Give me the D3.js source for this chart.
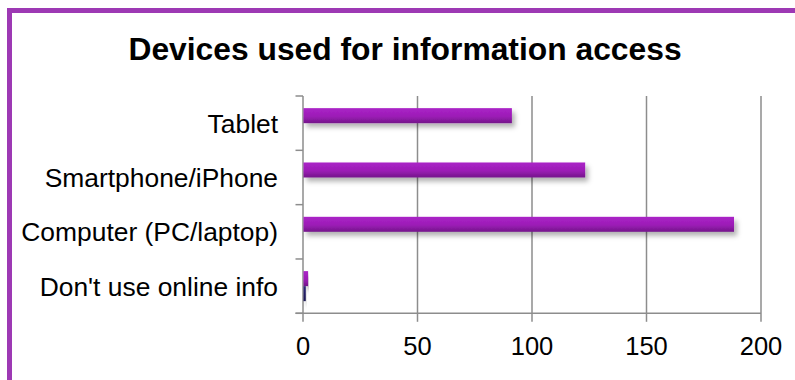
<!DOCTYPE html>
<html lang="en">
<head>
  <meta charset="UTF-8">
  <title>Devices used for information access</title>
  <script src="https://d3js.org/d3.v7.min.js"></script>
  <style>
    body { margin: 0; background: #fff; overflow: hidden; }
    svg { display: block; }
    text { font-family: "Liberation Sans", Arial, sans-serif; fill: #000; }
  </style>
</head>
<body>
  <script>
    // categories, top to bottom as drawn
    const categories = ["Tablet", "Smartphone/iPhone", "Computer (PC/laptop)", "Don't use online info"];
    const seriesNames = ["Series2", "Series1"];
    const series2 = [91, 123, 188, 2];   // purple bars
    const series1 = [0, 0, 0, 1];        // navy bars
    const xTicks = [0, 50, 100, 150, 200];

    const W = 795, H = 380;
    const plot = { left: 303, right: 761, top: 96, bottom: 313.3 };

    const svg = d3.select("body").append("svg")
      .attr("width", W)
      .attr("height", H);

    const defs = svg.append("defs");

    const grad = defs.append("linearGradient")
      .attr("id", "purple")
      .attr("x1", 0).attr("y1", 0).attr("x2", 0).attr("y2", 1);
    grad.append("stop").attr("offset", "0%").attr("stop-color", "#aa22c7");
    grad.append("stop").attr("offset", "55%").attr("stop-color", "#9c1db6");
    grad.append("stop").attr("offset", "100%").attr("stop-color", "#74168a");

    const grad2 = defs.append("linearGradient")
      .attr("id", "navy")
      .attr("x1", 0).attr("y1", 0).attr("x2", 0).attr("y2", 1);
    grad2.append("stop").attr("offset", "0%").attr("stop-color", "#2b2678");
    grad2.append("stop").attr("offset", "100%").attr("stop-color", "#1a164f");

    defs.append("filter")
      .attr("id", "shadow")
      .attr("x", "-10%").attr("y", "-50%")
      .attr("width", "130%").attr("height", "220%")
      .append("feDropShadow")
      .attr("dx", 3)
      .attr("dy", 4)
      .attr("stdDeviation", 2.5)
      .attr("flood-color", "#000")
      .attr("flood-opacity", 0.3);

    // outer border (right and bottom run off the picture)
    svg.append("rect")
      .attr("x", 9.5)
      .attr("y", 10.5)
      .attr("width", W + 20)
      .attr("height", H + 20)
      .attr("fill", "none")
      .attr("stroke", "#9d39b4")
      .attr("stroke-width", 5);

    svg.append("text")
      .attr("x", 405)
      .attr("y", 60)
      .attr("text-anchor", "middle")
      .attr("font-size", "31.8px")
      .attr("font-weight", "bold")
      .text("Devices used for information access");

    const x = d3.scaleLinear().domain([0, 200]).range([plot.left, plot.right]);
    const y0 = d3.scaleBand().domain(categories).range([plot.top, plot.bottom]);
    const y1 = d3.scaleBand().domain(seriesNames).range([0, y0.bandwidth()]).paddingOuter(0.81);

    const gridColor = "#8d8d8d";

    // gridlines (with tick extension below the axis)
    svg.append("g")
      .selectAll("line")
      .data(xTicks)
      .join("line")
      .attr("x1", d => x(d))
      .attr("x2", d => x(d))
      .attr("y1", plot.top)
      .attr("y2", plot.bottom + 8.5)
      .attr("stroke", gridColor)
      .attr("stroke-width", 1.5);

    // y axis ticks at band edges
    const edges = categories.map(c => y0(c)).concat([plot.bottom]);
    svg.append("g")
      .selectAll("line")
      .data(edges)
      .join("line")
      .attr("x1", plot.left - 7.5)
      .attr("x2", plot.left)
      .attr("y1", d => d)
      .attr("y2", d => d)
      .attr("stroke", gridColor)
      .attr("stroke-width", 1.5);

    // x axis line
    svg.append("line")
      .attr("x1", plot.left - 7.5)
      .attr("x2", plot.right)
      .attr("y1", plot.bottom)
      .attr("y2", plot.bottom)
      .attr("stroke", gridColor)
      .attr("stroke-width", 1.5);

    // bars
    const rows = categories.map((c, i) => ({ cat: c, vals: [
      { s: "Series2", v: series2[i], fill: "url(#purple)" },
      { s: "Series1", v: series1[i], fill: "url(#navy)" }
    ] }));

    svg.append("g")
      .selectAll("g")
      .data(rows)
      .join("g")
      .attr("transform", d => `translate(0,${y0(d.cat)})`)
      .selectAll("rect")
      .data(d => d.vals.filter(v => v.v > 0))
      .join("rect")
      .attr("x", x(0) + 0.5)
      .attr("y", d => y1(d.s))
      .attr("width", d => x(d.v) - x(0))
      .attr("height", y1.bandwidth())
      .attr("fill", d => d.fill)
      .attr("filter", "url(#shadow)");

    // category labels
    svg.append("g")
      .selectAll("text")
      .data(categories)
      .join("text")
      .attr("x", 278)
      .attr("y", d => y0(d) + y0.bandwidth() / 2)
      .attr("dy", "0.36em")
      .attr("text-anchor", "end")
      .attr("font-size", "26.4px")
      .text(d => d);

    // tick labels
    svg.append("g")
      .selectAll("text")
      .data(xTicks)
      .join("text")
      .attr("x", d => x(d))
      .attr("y", 355)
      .attr("text-anchor", "middle")
      .attr("font-size", "25.5px")
      .text(d => d);
  </script>
</body>
</html>
